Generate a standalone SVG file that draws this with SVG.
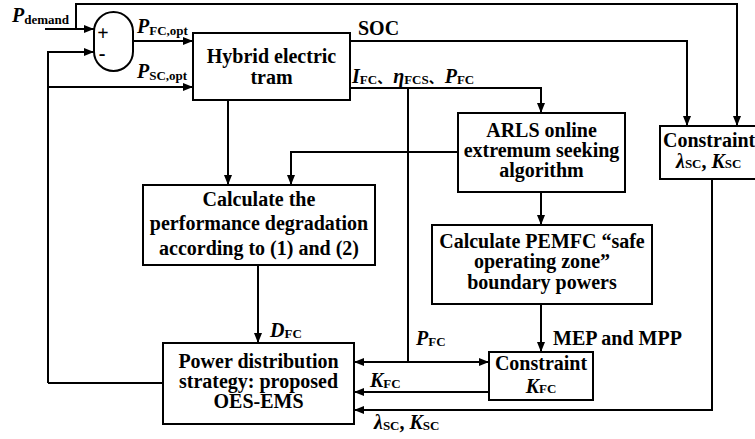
<svg xmlns="http://www.w3.org/2000/svg" width="755" height="439" viewBox="0 0 755 439">
<defs>
<marker id="ah" markerWidth="10" markerHeight="8" refX="10" refY="4" orient="auto" markerUnits="userSpaceOnUse">
<path d="M0,0 L10,4 L0,8 Z" fill="#000"/>
</marker>
<style>
.box{fill:#fff;stroke:#000;stroke-width:2}
.ln{fill:none;stroke:#000;stroke-width:2}
.arr{marker-end:url(#ah)}
text{font-family:"Liberation Serif","Times New Roman",serif;font-weight:bold;font-size:20px;fill:#000}
.c{text-anchor:middle}
.it{font-style:italic}
.sub{font-size:13px;font-style:normal}
.cjk{font-family:"Liberation Serif","Noto Sans CJK SC",serif}
</style>
</defs>
<rect width="755" height="439" fill="#fff"/>

<g id="connectors">
<path class="ln arr" d="M45,29 H94"/>
<path class="ln arr" d="M76,29 V4 H737 V126"/>
<path class="ln arr" d="M48,383 V52 H94"/>
<path class="ln" d="M48,383 H163"/>
<path class="ln arr" d="M48,87 H193"/>
<path class="ln arr" d="M133,41 H193"/>
<path class="ln arr" d="M350,41 H687 V126"/>
<path class="ln arr" d="M350,88 H541 V113"/>
<path class="ln" d="M408,88 V362"/>
<path class="ln arr" d="M408,362 H489"/>
<path class="ln arr" d="M408,362 H354"/>
<path class="ln arr" d="M228,100 V185"/>
<path class="ln arr" d="M458,152 H291 V185"/>
<path class="ln arr" d="M258,265 V343"/>
<path class="ln arr" d="M541,192 V225"/>
<path class="ln arr" d="M541,304 V352"/>
<path class="ln arr" d="M489,392 H354"/>
<path class="ln arr" d="M712,179 V410 H354"/>
</g>

<g id="sum">
<rect class="box" x="94" y="12" width="39" height="59" rx="19.5" ry="19.5"/>
<text x="103" y="40" class="c">+</text>
<text x="102" y="60" class="c">-</text>
</g>

<g id="hybrid">
<rect class="box" x="193" y="33" width="157" height="67"/>
<text x="271.5" y="63" class="c">Hybrid electric</text>
<text x="271.5" y="84" class="c">tram</text>
</g>

<g id="arls">
<rect class="box" x="458" y="113" width="167" height="79"/>
<text x="541.5" y="137" class="c">ARLS online</text>
<text x="541.5" y="157" class="c">extremum seeking</text>
<text x="541.5" y="177" class="c">algorithm</text>
</g>

<g id="calc">
<rect class="box" x="143" y="185" width="232" height="80"/>
<text x="259" y="206" class="c">Calculate the</text>
<text x="259" y="230" class="c">performance degradation</text>
<text x="259" y="255" class="c">according to (1) and (2)</text>
</g>

<g id="boundary">
<rect class="box" x="432" y="225" width="220" height="79"/>
<text x="542" y="248" class="c">Calculate PEMFC “safe</text>
<text x="542" y="268" class="c">operating zone”</text>
<text x="542" y="289" class="c">boundary powers</text>
</g>

<g id="constraint-sc">
<rect class="box" x="660" y="126" width="100" height="53"/>
<text x="663" y="147">Constraint</text>
<text x="676" y="168"><tspan class="it">λ</tspan><tspan class="sub">SC</tspan>, <tspan class="it">K</tspan><tspan class="sub">SC</tspan></text>
</g>

<g id="constraint-fc">
<rect class="box" x="489" y="352" width="104" height="48"/>
<text x="541" y="370" class="c">Constraint</text>
<text x="541" y="393" class="c"><tspan class="it">K</tspan><tspan class="sub">FC</tspan></text>
</g>

<g id="power">
<rect class="box" x="163" y="343" width="191" height="81"/>
<text x="258.5" y="368" class="c">Power distribution</text>
<text x="258.5" y="388" class="c">strategy: proposed</text>
<text x="258.5" y="408" class="c">OES-EMS</text>
</g>

<g id="labels">
<text x="12" y="22"><tspan class="it">P</tspan><tspan class="sub" dy="2">demand</tspan></text>
<text x="137" y="33"><tspan class="it">P</tspan><tspan class="sub" dy="2">FC,opt</tspan></text>
<text x="137" y="78"><tspan class="it">P</tspan><tspan class="sub" dy="2">SC,opt</tspan></text>
<text x="358" y="35">SOC</text>
<text x="352" y="83" class="cjk"><tspan class="it">I</tspan><tspan class="sub" dy="1">FC</tspan><tspan dy="-1" font-size="14">、</tspan><tspan class="it" dx="2">η</tspan><tspan class="sub" dy="1">FCS</tspan><tspan dy="-1" font-size="14">、</tspan><tspan class="it" dx="2">P</tspan><tspan class="sub" dy="1">FC</tspan></text>
<text x="270" y="337"><tspan class="it">D</tspan><tspan class="sub" dy="1">FC</tspan></text>
<text x="416" y="345"><tspan class="it">P</tspan><tspan class="sub" dy="1">FC</tspan></text>
<text x="553" y="345">MEP and MPP</text>
<text x="370" y="387"><tspan class="it">K</tspan><tspan class="sub" dy="1">FC</tspan></text>
<text x="374" y="429"><tspan class="it">λ</tspan><tspan class="sub" dy="1">SC</tspan><tspan dy="-1">, </tspan><tspan class="it">K</tspan><tspan class="sub" dy="1">SC</tspan></text>
</g>
</svg>
